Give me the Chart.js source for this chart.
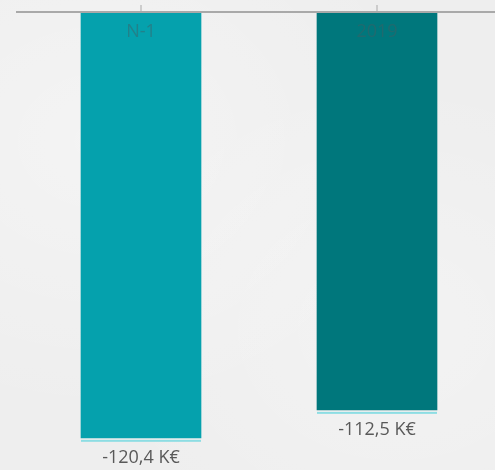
<!DOCTYPE html>
<html>
<head>
<meta charset="utf-8">
<script src="https://cdn.jsdelivr.net/npm/chart.js@4"></script>
<style>
  html, body { margin: 0; padding: 0; }
  body {
    width: 495px; height: 470px; overflow: hidden;
    background: #eeeeee;
    background-image:
      radial-gradient(ellipse at 20% 30%, rgba(255,255,255,0.35), rgba(255,255,255,0) 60%),
      radial-gradient(ellipse at 80% 70%, rgba(255,255,255,0.3), rgba(255,255,255,0) 55%);
  }
  #wrap { position: relative; width: 495px; height: 470px; }
</style>
</head>
<body>
<div id="wrap"><canvas id="result-chart"></canvas></div>
<script>
const categories = ['N-1', '2019'];
const values = [-120.4, -112.5];
const valueLabels = ['-120,4 K€', '-112,5 K€'];
const barColors = ['#05a1ad', '#00777c'];

const FONT = '"Open Sans", "Liberation Sans", sans-serif';

// axis line, tick marks, labels and the thin underline below each bar
const decorations = {
  id: 'decorations',
  afterDatasetsDraw(chart) {
    const ctx = chart.ctx;
    const x = chart.scales.x;
    const y = chart.scales.y;
    const zero = y.getPixelForValue(0);
    const meta = chart.getDatasetMeta(0);

    ctx.save();
    ctx.fillStyle = '#a9a9a9';
    ctx.fillRect(16, zero - 1, 495 - 16, 2);
    categories.forEach((c, i) => {
      const cx = Math.round(x.getPixelForValue(i));
      ctx.fillRect(cx - 0.5, zero - 7, 1, 7);
    });

    ctx.textAlign = 'center';
    ctx.font = '18px ' + FONT;
    meta.data.forEach((bar, i) => {
      const left = bar.x - bar.width / 2;
      ctx.fillStyle = '#8ddde3';
      ctx.fillRect(left, bar.y + 2, bar.width, 2);

      ctx.fillStyle = 'rgba(70, 90, 95, 0.45)';
      ctx.textBaseline = 'middle';
      ctx.fillText(categories[i], bar.x, zero + 20);

      ctx.fillStyle = '#595959';
      ctx.textBaseline = 'alphabetic';
      ctx.fillText(valueLabels[i], bar.x, bar.y + 25);
    });
    ctx.restore();
  }
};

new Chart(document.getElementById('result-chart'), {
  type: 'bar',
  data: {
    labels: categories,
    datasets: [{
      data: values,
      backgroundColor: barColors,
      borderWidth: 0,
      barThickness: 120
    }]
  },
  options: {
    responsive: true,
    maintainAspectRatio: false,
    animation: false,
    layout: { padding: { top: 12, left: 23, right: 0, bottom: 0 } },
    plugins: { legend: { display: false }, tooltip: { enabled: false } },
    scales: {
      x: { display: false },
      y: { display: false, min: -129.5, max: 0 }
    }
  },
  plugins: [decorations]
});
</script>
</body>
</html>
